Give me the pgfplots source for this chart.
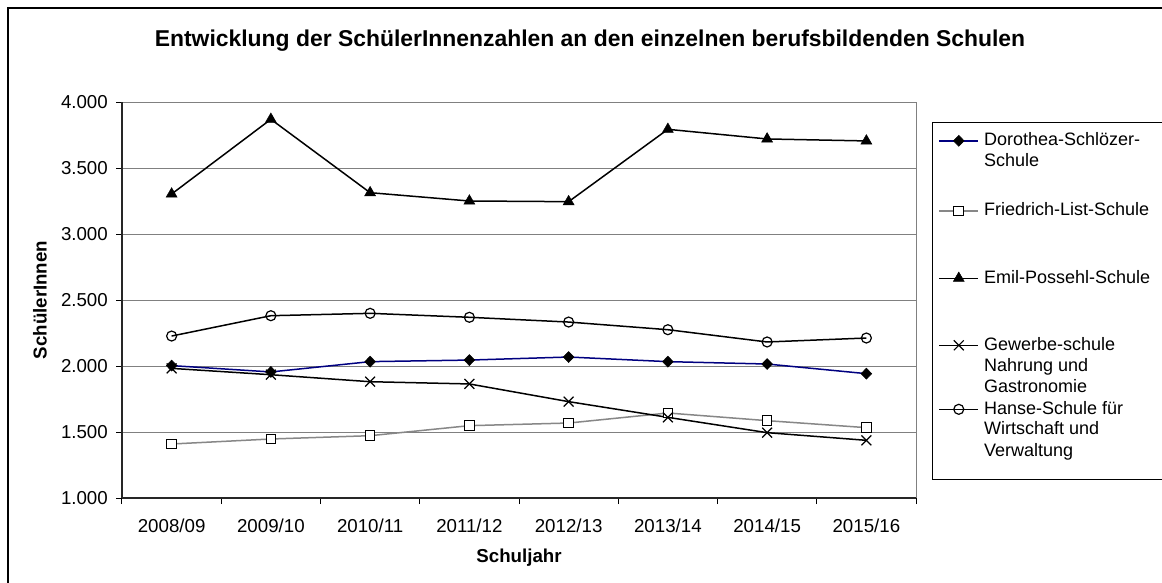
\documentclass[border=0pt]{standalone}
\usepackage{fontspec}
\setmainfont{Liberation Sans}
\usepackage{pgfplots}
\pgfplotsset{compat=1.18}
\definecolor{navyline}{RGB}{0,0,128}
\definecolor{gridgray}{RGB}{128,128,128}
\definecolor{lgray}{RGB}{135,135,135}
\newcommand{\LR}[2]{\makebox[190pt][l]{\rule{0pt}{#1}\smash{#2}}}
\begin{document}
\begin{tikzpicture}
\path[use as bounding box] (0,0) rectangle (1162pt,582pt);
\clip (0,0) rectangle (1162pt,582pt);
\fill[white] (0,0) rectangle (1162pt,582pt);
\draw[line width=2pt] (8pt,-20pt) -- (8pt,574pt) -- (1200pt,574pt);
\begin{axis}[
  at={(122pt,84pt)}, anchor=south west,
  width=794pt, height=396pt, scale only axis,
  xmin=-0.5, xmax=7.5, ymin=1000, ymax=4000,
  axis lines=left,
  axis line style={-, line width=1.3pt, black!85},
  tick align=outside,
  xtick={0,...,7},
  xticklabels={2008/09,2009/10,2010/11,2011/12,2012/13,2013/14,2014/15,2015/16},
  major x tick style={draw=none},
  minor xtick={-0.5,0.5,1.5,2.5,3.5,4.5,5.5,6.5,7.5},
  minor tick length=6pt,
  major tick length=6pt,
  tick style={black, line width=1pt},
  ytick={1000,1500,2000,2500,3000,3500,4000},
  ymajorgrids,
  major grid style={gridgray, line width=1pt},
  scaled y ticks=false,
  yticklabel style={/pgf/number format/fixed, /pgf/number format/precision=0, /pgf/number format/1000 sep={.}, /pgf/number format/assume math mode=true},
  tick label style={font=\fontsize{18.7}{20}\selectfont},
  xticklabel style={anchor=north, inner sep=0pt, yshift=-15pt},
  yticklabel style={anchor=east, inner sep=0pt, xshift=-8pt},
  xlabel={Schuljahr},
  ylabel={SchülerInnen},
  title={Entwicklung der SchülerInnenzahlen an den einzelnen berufsbildenden Schulen},
  every axis x label/.style={at={(axis description cs:0.5,-0.1641)}, anchor=base, inner sep=0pt, font=\bfseries\fontsize{18.7}{20}\selectfont},
  every axis y label/.style={at={(axis description cs:-0.1033,0.5)}, rotate=90, anchor=center, inner sep=0pt, font=\bfseries\fontsize{18.7}{20}\selectfont},
  every axis title/.style={at={(axis description cs:0.5894,1.1389)}, anchor=base, inner sep=0pt, font=\bfseries\fontsize{22.9}{25}\selectfont},
  clip=false,
  legend cell align=left,
  legend style={at={(axis description cs:1.0202,0.9495)}, anchor=north west, draw=black, line width=1pt, fill=white,
    inner xsep=6pt, inner ysep=0pt, row sep=0pt, column sep=5pt,
    cells={anchor=base west}, nodes={inner sep=0pt},
    font=\fontsize{18}{20.5}\selectfont},
  legend image code/.code={\draw[mark repeat=2,mark phase=2] plot coordinates {(0pt,4.7pt) (19.5pt,4.7pt) (39pt,4.7pt)};},
]
\draw[gridgray, line width=1pt] (rel axis cs:1,0) -- (rel axis cs:1,1);
\addplot[navyline, line width=1.5pt, mark=diamond*, mark size=5.5pt, mark options={fill=black, draw=black, line width=0.5pt, xscale=1.3}]
  coordinates {(0,2003) (1,1955) (2,2033) (3,2045) (4,2068) (5,2033) (6,2015) (7,1942)};
\addlegendentry{\LR{23pt}{Dorothea-Schlözer-}}
\addlegendimage{empty legend}
\addlegendentry{\LR{19pt}{Schule}}
\addplot[lgray, line width=1.5pt, mark=square*, mark size=4.8pt, mark options={fill=white, draw=black, line width=1pt}]
  coordinates {(0,1409) (1,1447) (2,1472) (3,1548) (4,1568) (5,1644) (6,1586) (7,1533)};
\addlegendentry{\LR{48pt}{Friedrich-List-Schule}}
\addplot[black, line width=1.5pt, mark=triangle*, mark size=6.3pt, mark options={fill=black, draw=black, line width=0.5pt}]
  coordinates {(0,3303) (1,3869) (2,3313) (3,3250) (4,3245) (5,3793) (6,3720) (7,3705)};
\addlegendentry{\LR{66pt}{Emil-Possehl-Schule}}
\addplot[black, line width=1.5pt, mark=x, mark size=7pt, mark options={draw=black, line width=1.2pt}]
  coordinates {(0,1982) (1,1934) (2,1881) (3,1864) (4,1730) (5,1611) (6,1495) (7,1437)};
\addlegendentry{\LR{65.5pt}{Gewerbe-schule}}
\addlegendimage{empty legend}
\addlegendentry{\LR{20pt}{Nahrung und}}
\addlegendimage{empty legend}
\addlegendentry{\LR{19pt}{Gastronomie}}
\addplot[black, line width=1.5pt, mark=o, mark size=5pt, mark options={fill=white, draw=black, line width=1.2pt}]
  coordinates {(0,2227) (1,2381) (2,2399) (3,2369) (4,2333) (5,2275) (6,2182) (7,2212)};
\addlegendentry{\LR{20.5pt}{Hanse-Schule für}}
\addlegendimage{empty legend}
\addlegendentry{\LR{18.5pt}{Wirtschaft und}}
\addlegendimage{empty legend}
\addlegendentry{\LR{20.5pt}{Verwaltung}}
\addlegendimage{empty legend}
\addlegendentry{\rule{0pt}{20pt}}
\end{axis}
\end{tikzpicture}
\end{document}
